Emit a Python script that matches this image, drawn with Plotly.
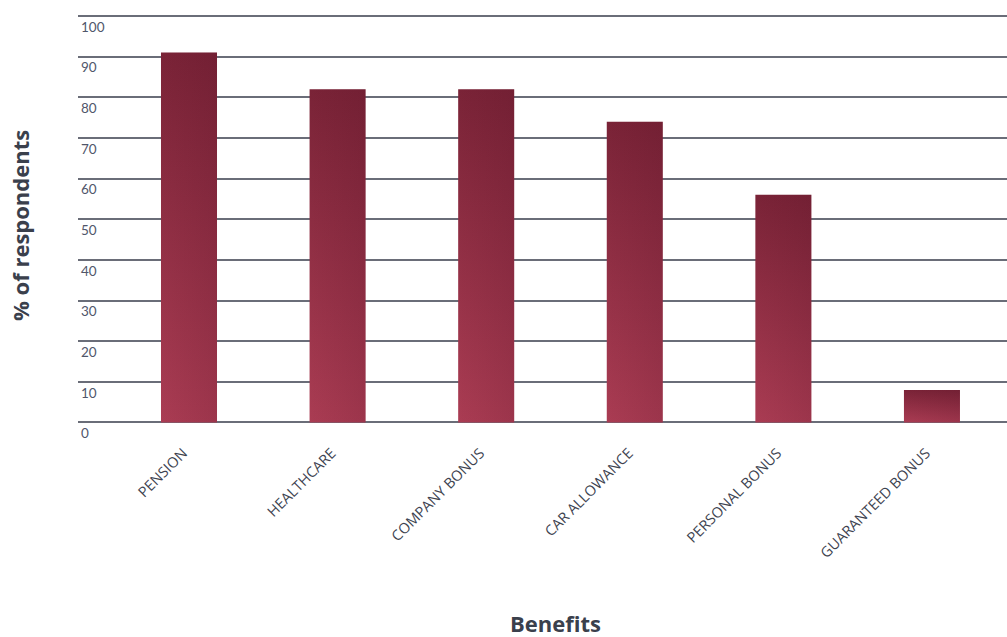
import plotly.graph_objects as go

# Share of respondents receiving each benefit
categories = ["PENSION", "HEALTHCARE", "COMPANY BONUS", "CAR ALLOWANCE",
              "PERSONAL BONUS", "GUARANTEED BONUS"]
values = [91, 82, 82, 74, 56, 8]
y_ticks = [0, 10, 20, 30, 40, 50, 60, 70, 80, 90, 100]

BAR_W = 0.377
LIGHT = "#aa3c53"
DARK = "#7a2337"

# plot area geometry in pixels (used to place the axis titles)
L, T, W, H = 78, 14, 929, 443


def px_x(px):
    return (px - L) / W


def px_y(py):
    return (T + H - py) / H


fig = go.Figure()

# Each bar is a filled rectangle so it can carry its own colour gradient
for i, (cat, v) in enumerate(zip(categories, values)):
    x0, x1 = i - BAR_W / 2, i + BAR_W / 2
    fig.add_trace(go.Scatter(
        x=[x0, x1, x1, x0, x0],
        y=[0, 0, v, v, 0],
        mode="lines",
        line=dict(width=0),
        fill="toself",
        fillgradient=dict(type="vertical",
                          colorscale=[[0, LIGHT], [1, DARK]]),
        name=cat,
        hoverinfo="skip",
        showlegend=False,
    ))
    # subtle darkening toward the right edge for a diagonal sheen
    fig.add_trace(go.Scatter(
        x=[x0, x1, x1, x0, x0],
        y=[0, 0, v, v, 0],
        mode="lines",
        line=dict(width=0),
        fill="toself",
        fillgradient=dict(type="horizontal",
                          colorscale=[[0, "rgba(70,10,30,0)"],
                                      [1, "rgba(70,10,30,0.14)"]]),
        hoverinfo="skip",
        showlegend=False,
    ))

fig.update_layout(
    width=1007, height=637,
    margin=dict(l=L, r=1007 - L - W, t=T, b=637 - T - H),
    paper_bgcolor="white",
    plot_bgcolor="white",
    font=dict(family="Open Sans", color="#3d4350"),
    xaxis=dict(
        range=[-0.747, 5.505],
        tickmode="array",
        tickvals=list(range(len(categories))),
        ticktext=categories,
        tickangle=-45,
        tickfont=dict(family="Open Sans", size=14.5, color="#3d4350"),
        showgrid=False, zeroline=False, showline=False,
        ticks="", ticklabelstandoff=1, ticklabelshift=-6,
        anchor="free", position=px_y(440),
    ),
    yaxis=dict(
        range=[-8.5, 100.5],
        tickmode="array",
        tickvals=y_ticks,
        ticktext=[str(t) for t in y_ticks],
        showgrid=True, gridcolor="#6a6d78", gridwidth=1.5,
        zeroline=False, showline=False, ticks="",
        ticklabelposition="inside",
        ticklabelshift=11,
        ticklabelstandoff=0,
        tickfont=dict(family="Lato", size=13.5, color="#50566a"),
    ),
    annotations=[
        dict(text="<b>% of respondents</b>", xref="paper", yref="paper",
             x=px_x(20), y=px_y(226), textangle=-90,
             xanchor="center", yanchor="middle",
             showarrow=False, font=dict(size=22, color="#3a404c",
                                         family="Open Sans")),
        dict(text="<b>Benefits</b>", xref="paper", yref="paper",
             x=px_x(555), y=px_y(639), borderpad=0,
             xanchor="center", yanchor="bottom",
             showarrow=False, font=dict(size=22, color="#3a404c",
                                         family="Open Sans")),
    ],
)

fig.write_html("out.html")
